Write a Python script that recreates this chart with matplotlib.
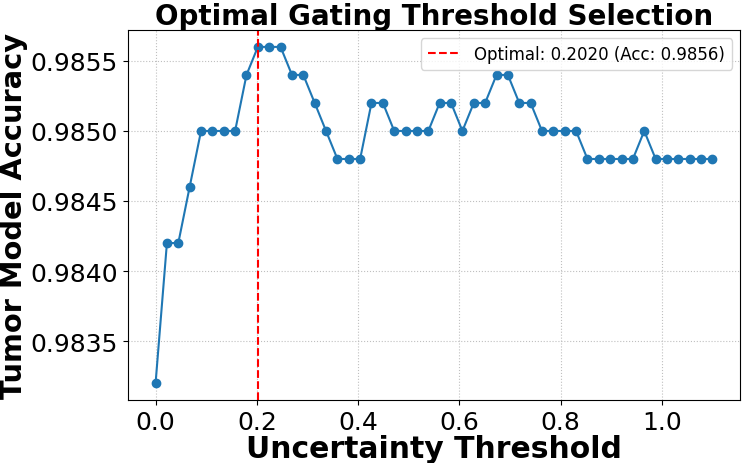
import matplotlib
matplotlib.use('Agg')
import matplotlib.pyplot as plt

thresholds = [0.0000, 0.0224, 0.0449, 0.0673, 0.0898, 0.1122, 0.1347, 0.1571, 0.1796, 0.2020,
              0.2245, 0.2469, 0.2694, 0.2918, 0.3143, 0.3367, 0.3592, 0.3816, 0.4041, 0.4265,
              0.4490, 0.4714, 0.4939, 0.5163, 0.5388, 0.5612, 0.5837, 0.6061, 0.6286, 0.6510,
              0.6735, 0.6959, 0.7184, 0.7408, 0.7633, 0.7857, 0.8082, 0.8306, 0.8531, 0.8755,
              0.8980, 0.9204, 0.9429, 0.9653, 0.9878, 1.0102, 1.0327, 1.0551, 1.0776, 1.1000]
accuracy = [0.9832, 0.9842, 0.9842, 0.9846, 0.9850, 0.9850, 0.9850, 0.9850, 0.9854, 0.9856,
            0.9856, 0.9856, 0.9854, 0.9854, 0.9852, 0.9850, 0.9848, 0.9848, 0.9848, 0.9852,
            0.9852, 0.9850, 0.9850, 0.9850, 0.9850, 0.9852, 0.9852, 0.9850, 0.9852, 0.9852,
            0.9854, 0.9854, 0.9852, 0.9852, 0.9850, 0.9850, 0.9850, 0.9850, 0.9848, 0.9848,
            0.9848, 0.9848, 0.9848, 0.9850, 0.9848, 0.9848, 0.9848, 0.9848, 0.9848, 0.9848]
best_thr = 0.2020
best_acc = 0.9856

fig, ax = plt.subplots(figsize=(7.47, 4.64), dpi=100)
ax.plot(thresholds, accuracy, marker='o', color='#1f77b4')
ax.axvline(best_thr, color='red', linestyle='--',
           label=f'Optimal: {best_thr:.4f} (Acc: {best_acc:.4f})')
ax.set_xlabel('Uncertainty Threshold', fontsize=21.5, fontweight='bold', labelpad=0)
ax.set_ylabel('Tumor Model Accuracy', fontsize=20.8, fontweight='bold', labelpad=2)
ax.set_title('Optimal Gating Threshold Selection', fontsize=20, fontweight='bold', pad=3)
ax.tick_params(labelsize=18)
ax.legend(fontsize=12)
ax.grid(True, linestyle=':', alpha=0.8)
fig.subplots_adjust(left=0.171, right=0.991, top=0.933, bottom=0.136)
fig.savefig('out.png')
